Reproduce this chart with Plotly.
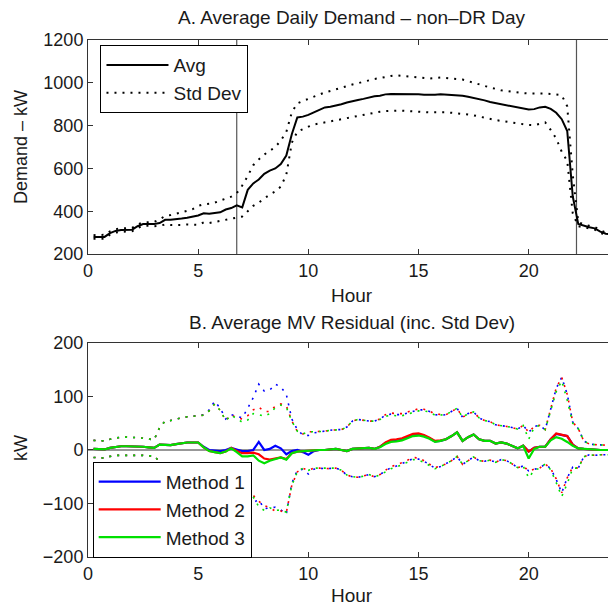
import plotly.graph_objects as go

# ---------------- data ----------------
hours = [0.25 * (i + 1) for i in range(96)]  # 15-min time grid, 0.25 .. 24.0 h

avg_demand = [
    280, 280, 280, 298,  308, 312, 312, 314,  330, 340, 340, 340,
    345, 360, 360, 362,  366, 370, 375, 380,  390, 388, 392, 395,
    408, 415, 428, 418,  500, 530, 548, 575,  590, 600, 620, 660,
    760, 838, 842, 850,  862, 872, 885, 888,  893, 900, 908, 915,
    920, 925, 932, 937,  940, 946, 948, 948,  948, 947, 947, 946,
    944, 943, 944, 946,  945, 943, 942, 940,  935, 930, 925, 918,
    910, 905, 900, 896,  893, 888, 880, 875,  877, 885, 888, 878,
    860, 830, 775, 470,  340, 332, 325, 320,  305, 295, 290, 288,
]
std_upper = [
    288, 288, 290, 306,  316, 320, 320, 322,  338, 348, 348, 350,
    362, 378, 382, 390,  395, 402, 410, 425,  432, 435, 440, 450,
    458, 468, 484, 520,  565, 615, 642, 665,  682, 700, 730, 770,
    862, 904, 915, 925,  938, 948, 955, 962,  970, 978, 985, 992,
    998, 1005, 1012, 1018,  1022, 1028, 1032, 1035,  1033, 1030, 1028, 1026,
    1022, 1020, 1022, 1025,  1022, 1020, 1020, 1015,  1008, 1000, 992, 985,
    978, 972, 965, 962,  958, 955, 952, 950,  950, 952, 950, 948,
    945, 942, 890, 570,  350, 338, 332, 326,  312, 300, 296, 294,
]
std_lower = [
    272, 272, 272, 290,  300, 304, 304, 306,  322, 332, 332, 330,
    332, 338, 336, 335,  336, 338, 338, 336,  348, 345, 350, 355,
    362, 368, 372, 375,  400, 425, 440, 460,  478, 492, 515, 570,
    720, 772, 785, 795,  805, 810, 815, 820,  826, 832, 836, 842,
    848, 852, 858, 862,  865, 868, 870, 870,  870, 868, 866, 865,
    863, 862, 862, 863,  862, 860, 858, 856,  852, 848, 842, 836,
    830, 826, 822, 818,  815, 812, 806, 803,  802, 808, 815, 780,
    740, 678, 635, 390,  330, 325, 318, 314,  298, 290, 284, 282,
]

method1 = [
    2, 2, 1, 4,  6, 7, 7, 7,  7, 6, 5, 4,  10, 10, 9, 11,
    13, 14, 14, 14,  6, 0, -1, -2,  0, 4, 1, -2,  -2, 0, 15, 0,
    2, 8, 3, -8,  -2, 0, -4, -9,  -2, 0, 0, 1,  2, 0, -2, 2,
    3, 3, 4, 2,  6, 13, 17, 18,  20, 24, 28, 29,  27, 22, 16, 17,
    20, 26, 33, 17,  24, 29, 20, 17,  17, 12, 14, 12,  8, 3, 8, -3,
    4, 6, 6, 20,  30, 28, 26, 10,  3, 2, 1, 0,  0, 0, 0, 0,
]
method2 = [
    2, 2, 1, 4,  6, 7, 7, 7,  7, 6, 5, 4,  10, 10, 9, 11,
    13, 14, 14, 14,  5, -2, -4, -6,  -3, 4, -2, -6,  -6, -5, -8, -16,
    -18, -16, -14, -17,  -6, -3, -2, -2,  0, 0, 0, 1,  2, 0, -2, 2,
    3, 3, 4, 2,  6, 14, 19, 20,  22, 26, 30, 31,  28, 23, 17, 18,
    20, 26, 33, 17,  24, 29, 20, 17,  17, 12, 14, 12,  8, 3, 8, -3,
    4, 6, 6, 20,  31, 28, 26, 10,  3, 2, 1, 0,  0, 0, 0, 0,
]
method3 = [
    2, 2, 1, 4,  6, 7, 7, 7,  7, 6, 5, 4,  10, 10, 9, 11,
    13, 14, 14, 14,  5, -2, -4, -6,  -3, 3, -4, -12,  -12, -10, -20, -25,
    -20, -17, -14, -18,  -6, -3, -2, -2,  0, 0, 0, 1,  2, 0, -2, 2,
    3, 3, 4, 2,  5, 11, 15, 16,  18, 22, 26, 27,  25, 21, 15, 17,
    20, 26, 33, 17,  24, 29, 20, 17,  17, 12, 14, 12,  8, 3, 8, -16,
    2, 6, 6, 18,  24, 21, 15, 8,  3, 2, 1, 0,  0, 0, 0, 0,
]
std1 = [
    16, 16, 16, 16,  16, 17, 17, 17,  16, 16, 16, 15,  32, 44, 46, 47,
    47, 48, 49, 50,  60, 75, 92, 80,  58, 62, 62, 62,  80, 98, 108, 110,
    110, 115, 115, 112,  60, 38, 32, 36,  34, 34, 35, 36,  36, 38, 45, 52,
    54, 52, 50, 52,  52, 52, 50, 48,  46, 45, 44, 46,  48, 50, 50, 48,
    46, 46, 45, 44,  44, 42, 40, 38,  36, 35, 32, 32,  34, 36, 38, 36,
    40, 40, 32, 55,  85, 108, 78, 42,  37, 15, 10, 10,  9, 9, 9, 9,
]
std2 = [
    16, 16, 16, 16,  16, 17, 17, 17,  16, 16, 16, 15,  32, 44, 46, 47,
    47, 48, 49, 50,  60, 75, 90, 80,  58, 62, 62, 64,  70, 80, 88, 88,
    90, 98, 100, 100,  60, 38, 32, 36,  34, 34, 35, 36,  36, 38, 45, 52,
    54, 52, 50, 52,  52, 52, 50, 48,  46, 45, 44, 46,  48, 50, 50, 48,
    46, 46, 45, 44,  44, 42, 40, 38,  36, 35, 32, 32,  34, 36, 38, 36,
    40, 40, 32, 55,  85, 108, 78, 42,  37, 15, 10, 10,  9, 9, 9, 9,
]
std3 = [
    16, 16, 16, 16,  16, 17, 17, 17,  16, 16, 16, 15,  32, 44, 46, 47,
    47, 48, 49, 50,  60, 75, 90, 80,  58, 62, 62, 64,  68, 78, 86, 88,
    88, 96, 98, 98,  60, 38, 32, 36,  34, 34, 35, 36,  36, 38, 45, 52,
    54, 52, 50, 52,  52, 52, 50, 48,  46, 45, 44, 46,  48, 50, 50, 48,
    46, 46, 45, 44,  44, 42, 40, 38,  36, 35, 32, 32,  34, 36, 38, 36,
    40, 40, 32, 55,  85, 108, 78, 42,  37, 15, 10, 10,  9, 9, 9, 9,
]

dr_window = [6.75, 22.17]
x_ticks = [0, 5, 10, 15, 20]
methods = ["Method 1", "Method 2", "Method 3"]
method_colors = ["#0000ff", "#ff0000", "#00e000"]

# ---------------- figure ----------------
FONT = "Liberation Sans, Arial, Helvetica, sans-serif"
TXT = "#1a1a1a"
AX = "#333333"
DOT = "2px,6px"

fig = go.Figure()

# top panel
fig.add_trace(go.Scatter(x=hours, y=std_upper, mode="lines", name="Std Dev",
                         line=dict(color="black", width=2, dash=DOT),
                         xaxis="x", yaxis="y", legend="legend", legendrank=2))
fig.add_trace(go.Scatter(x=hours, y=std_lower, mode="lines", showlegend=False,
                         line=dict(color="black", width=2, dash=DOT),
                         xaxis="x", yaxis="y", legend="legend"))
fig.add_trace(go.Scatter(x=hours, y=avg_demand, mode="lines", name="Avg",
                         line=dict(color="black", width=2),
                         xaxis="x", yaxis="y", legend="legend", legendrank=1))

# bottom panel: std bands
for vals, sd, col in zip([method1, method2, method3], [std1, std2, std3], method_colors):
    up = [v + s for v, s in zip(vals, sd)]
    lo = [v - s for v, s in zip(vals, sd)]
    for band in (up, lo):
        fig.add_trace(go.Scatter(x=hours, y=band, mode="lines", showlegend=False,
                                 line=dict(color=col, width=1.6, dash=DOT),
                                 xaxis="x2", yaxis="y2", legend="legend2"))
# bottom panel: mean residual lines
for vals, name, col in zip([method1, method2, method3], methods, method_colors):
    fig.add_trace(go.Scatter(x=hours, y=vals, mode="lines", name=name,
                             line=dict(color=col, width=2.2),
                             xaxis="x2", yaxis="y2", legend="legend2"))

# reference lines
for xv in dr_window:
    fig.add_shape(type="line", xref="x", yref="y domain", x0=xv, x1=xv, y0=0, y1=1,
                  line=dict(color="#555555", width=1.2), layer="below")
fig.add_shape(type="line", xref="x2 domain", yref="y2", x0=0, x1=1, y0=0, y1=0,
              line=dict(color="#333333", width=1.2), layer="below")

axis_common = dict(ticks="inside", ticklen=5, tickcolor=AX, showline=True, linecolor=AX,
                   linewidth=1, showgrid=False, zeroline=False,
                   tickfont=dict(size=18, color=TXT, family=FONT))

fig.update_layout(
    width=608, height=605,
    margin=dict(l=88, r=0, t=40, b=48),
    paper_bgcolor="white", plot_bgcolor="white",
    font=dict(family=FONT, size=18, color=TXT),
    xaxis=dict(domain=[0, 1], range=[0, 23.6], tickvals=x_ticks, mirror="ticks",
               anchor="y", **axis_common),
    yaxis=dict(domain=[0.586, 1], range=[200, 1200], dtick=200, anchor="x",
               mirror=False, **axis_common),
    xaxis2=dict(domain=[0, 1], range=[0, 23.6], tickvals=x_ticks, mirror="ticks",
                anchor="y2", **axis_common),
    yaxis2=dict(domain=[0, 0.414], range=[-200, 200], dtick=100, anchor="x2",
                mirror=False, **axis_common),
    legend=dict(x=0.024, y=0.99, xanchor="left", yanchor="top",
                bordercolor="black", borderwidth=1, bgcolor="white",
                font=dict(size=19, color=TXT, family=FONT), itemwidth=62,
                tracegroupgap=0),
    legend2=dict(x=0.009, y=0.184, xanchor="left", yanchor="top",
                 bordercolor="black", borderwidth=1, bgcolor="white",
                 font=dict(size=19, color=TXT, family=FONT), itemwidth=62,
                 tracegroupgap=0),
    showlegend=True,
)

def ann(text, px, py, angle=0, size=18):
    fig.add_annotation(text=text, xref="paper", yref="paper",
                       x=(px - 88) / 520, y=(557 - py) / 517,
                       xanchor="center", yanchor="middle", showarrow=False,
                       textangle=angle, font=dict(size=size, color=TXT, family=FONT))

ann("A. Average Daily Demand \u2013 non\u2013DR Day", 352, 18, size=19)
ann("B. Average MV Residual (inc. Std Dev)", 352, 322, size=19)
ann("Hour", 352, 295, size=19)
ann("Hour", 352, 595, size=19)
ann("Demand \u2013 kW", 21, 147, angle=-90)
ann("kW", 21, 448, angle=-90)

fig.write_html("out.html")
